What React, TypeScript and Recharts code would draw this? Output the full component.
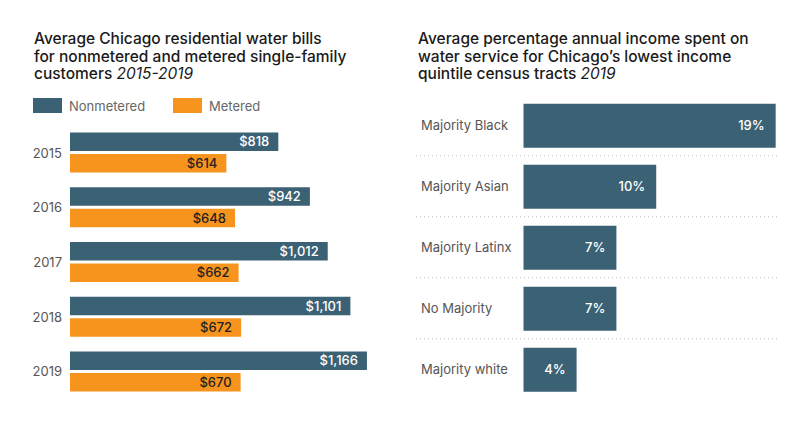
import { Bar, BarChart, CartesianGrid, LabelList, XAxis, YAxis } from "recharts";

const years = ["2015", "2016", "2017", "2018", "2019"];
const nonmetered = [818, 942, 1012, 1101, 1166];
const metered = [614, 648, 662, 672, 670];

const groups = ["Majority Black", "Majority Asian", "Majority Latinx", "No Majority", "Majority white"];
const incomeShare = [19, 10, 7, 7, 4];

const TEAL = "#3b6174";
const ORANGE = "#f7941d";
const FONT = "Inter, 'Noto Sans', sans-serif";

const billData = years.map((year, i) => ({ year, nonmetered: nonmetered[i], metered: metered[i] }));
const shareData = groups.map((group, i) => ({ group, share: incomeShare[i] }));

const titleStyle = {
  position: "absolute" as const,
  top: 30,
  fontSize: 15.5,
  lineHeight: "17.5px",
  fontWeight: 500,
  color: "#1a1a1a",
  fontFamily: FONT
};

const legendItems = [
  { name: "Nonmetered", color: TEAL, w: 140 },
  { name: "Metered", color: ORANGE, w: 100 }
];

const money = (v: number) => "$" + v.toLocaleString("en-US");

const App = () => {
  return (
    <div style={{ position: "relative", width: 810, height: 426, background: "#fff", overflow: "hidden" }}>
      <style>{"body{margin:0}"}</style>
      <div style={{ ...titleStyle, left: 34 }}>
        Average Chicago residential water bills
        <br />
        for nonmetered and metered single-family
        <br />
        customers <i style={{ fontWeight: 400 }}>2015-2019</i>
      </div>
      <div style={{ ...titleStyle, left: 418 }}>
        Average percentage annual income spent on
        <br />
        water service for Chicago’s lowest income
        <br />
        quintile census tracts <i style={{ fontWeight: 400 }}>2019</i>
      </div>

      <div
        style={{
          position: "absolute",
          left: 33,
          top: 98,
          display: "flex",
          fontFamily: FONT,
          fontSize: 13,
          color: "#666"
        }}
      >
        {legendItems.map((item) => (
          <div key={item.name} style={{ display: "flex", alignItems: "center", width: item.w, height: 15 }}>
            <span style={{ width: 29, height: 15, background: item.color, marginRight: 7 }} />
            {item.name}
          </div>
        ))}
      </div>

      <div style={{ position: "absolute", left: 0, top: 0 }}>
        <BarChart
          width={400}
          height={426}
          data={billData}
          layout="vertical"
          margin={{ top: 125.6, right: 24.4, left: 0, bottom: 26.9 }}
          barGap={3}
        >
          <XAxis type="number" domain={[0, 1200]} hide />
          <YAxis
            type="category"
            dataKey="year"
            width={70}
            axisLine={false}
            tickLine={false}
            tickSize={0}
            tickMargin={8}
            tick={{ fill: "#555", fontSize: 13, fontFamily: FONT }}
          />
          <Bar dataKey="nonmetered" name="Nonmetered" fill={TEAL} barSize={18.5} isAnimationActive={false}>
            <LabelList
              dataKey="nonmetered"
              position="insideRight"
              offset={9}
              formatter={money}
              fill="#fff"
              fontSize={13}
              fontWeight={500}
              fontFamily={FONT}
            />
          </Bar>
          <Bar dataKey="metered" name="Metered" fill={ORANGE} barSize={18.5} isAnimationActive={false}>
            <LabelList
              dataKey="metered"
              position="insideRight"
              offset={9}
              formatter={money}
              fill="#222"
              fontSize={13}
              fontWeight={500}
              fontFamily={FONT}
            />
          </Bar>
        </BarChart>
      </div>

      <div style={{ position: "absolute", left: 400, top: 0 }}>
        <BarChart
          width={410}
          height={426}
          data={shareData}
          layout="vertical"
          margin={{ top: 94.8, right: 33, left: 16, bottom: 26.2 }}
        >
          <CartesianGrid
            vertical={false}
            stroke="#bbb"
            strokeDasharray="1 3"
            horizontalCoordinatesGenerator={({ offset }: any) =>
              groups.slice(1).map((_, i) => offset.top + (offset.height * (i + 1)) / groups.length)
            }
          />
          <XAxis type="number" domain={[-8.1, 19.1]} hide />
          <YAxis
            type="category"
            dataKey="group"
            mirror
            width={110}
            axisLine={false}
            tickLine={false}
            tickSize={0}
            tickMargin={5}
            interval={0}
            tick={{ fill: "#555", fontSize: 13, fontFamily: FONT }}
          />
          <Bar dataKey="share" fill={TEAL} barSize={44} isAnimationActive={false}>
            <LabelList
              dataKey="share"
              position="insideRight"
              offset={11}
              formatter={(v: number) => `${v}%`}
              fill="#fff"
              fontSize={13}
              fontWeight={500}
              fontFamily={FONT}
            />
          </Bar>
        </BarChart>
      </div>
    </div>
  );
};

export default App;
